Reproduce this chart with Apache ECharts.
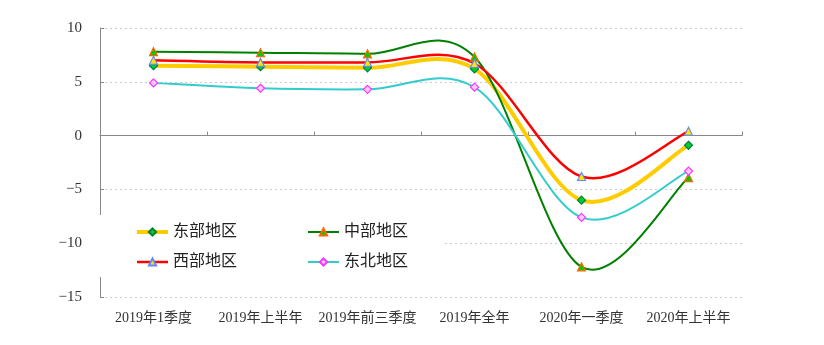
<!DOCTYPE html>
<html><head><meta charset="utf-8">
<script src="https://cdn.jsdelivr.net/npm/echarts@6/dist/echarts.min.js"></script>
<style>html,body{margin:0;padding:0;background:#fff}#c{width:824px;height:345px}</style>
</head><body><div id="c"></div>
<script>
const categories = ['2019年1季度','2019年上半年','2019年前三季度','2019年全年','2020年一季度','2020年上半年'];
const east = [6.5, 6.4, 6.3, 6.2, -6.0, -0.9];
const central = [7.8, 7.7, 7.6, 7.3, -12.2, -3.9];
const west = [7.0, 6.8, 6.8, 6.7, -3.8, 0.4];
const northeast = [4.9, 4.4, 4.3, 4.5, -7.6, -3.3];
const yTicks = {min: -15, max: 10, interval: 5};

const FONT = '"Liberation Serif", "Noto Sans CJK SC", serif';
const chart = echarts.init(document.getElementById('c'));

// markers + legend entry (line itself hidden; curve drawn by custom series below)
function markers(name, data, color, width, symbol, fill, border, size) {
  return {
    name, type: 'line', data, xAxisIndex: 0,
    symbol, symbolSize: size, showSymbol: true,
    lineStyle: {color, width, opacity: 0},
    itemStyle: {color: fill, borderColor: border, borderWidth: 1.2},
    emphasis: {disabled: true}, silent: true, z: 4
  };
}
// Excel-like smoothed curve (Catmull-Rom), points placed through the axis scales
function curve(name, data, color, width, z) {
  const n = data.length;
  return {
    name, type: 'custom', xAxisIndex: 0, silent: true, z,
    data: data.map((v, i) => [i, v]),
    encode: {x: 0, y: 1},
    renderItem(params, api) {
      const i = params.dataIndex;
      if (i >= n - 1) return null;
      const P = k => { k = Math.max(0, Math.min(n - 1, k)); return api.coord([k, data[k]]); };
      const p0 = P(i - 1), p1 = P(i), p2 = P(i + 1), p3 = P(i + 2);
      return {
        type: 'bezierCurve',
        shape: {
          x1: p1[0], y1: p1[1], x2: p2[0], y2: p2[1],
          cpx1: p1[0] + (p2[0] - p0[0]) / 6, cpy1: p1[1] + (p2[1] - p0[1]) / 6,
          cpx2: p2[0] - (p3[0] - p1[0]) / 6, cpy2: p2[1] - (p3[1] - p1[1]) / 6
        },
        style: {stroke: color, lineWidth: width, fill: null, lineCap: 'round'}
      };
    }
  };
}
const legendItem = (name, color, width) => ({name, lineStyle: {opacity: 1, color, width}});
const legendCommon = {orient: 'vertical', top: 224, itemWidth: 31, itemHeight: 9, itemGap: 14,
  itemTextGap: 5, padding: 0, z: 100, textStyle: {fontSize: 16, lineHeight: 16, color: '#222', fontFamily: FONT}};

chart.setOption({
  animation: false,
  grid: {left: 100, right: 82, top: 28, bottom: 48},
  xAxis: [
    {type: 'category', data: categories, position: 'bottom',
     axisLine: {show: false, onZero: false}, axisTick: {show: false},
     axisLabel: {color: '#333', fontSize: 14, fontFamily: FONT, margin: 14, interval: 0}},
    {type: 'category', data: categories, position: 'bottom',
     axisLine: {onZero: true, lineStyle: {color: '#888', width: 1}},
     axisTick: {show: true, inside: true, length: 4, interval: 0, lineStyle: {color: '#888'}},
     axisLabel: {show: false}, splitLine: {show: false}}
  ],
  yAxis: {
    type: 'value', min: yTicks.min, max: yTicks.max, interval: yTicks.interval,
    axisLine: {show: true, lineStyle: {color: '#888', width: 1}},
    axisTick: {show: true, inside: true, length: 4, lineStyle: {color: '#888'}},
    axisLabel: {color: '#333', fontSize: 15, fontFamily: FONT, margin: 18,
      formatter: v => String(v).replace('-', '\u2212')},
    splitLine: {show: true, lineStyle: {color: '#ccc', type: [2, 3], width: 1}}
  },
  graphic: [{type: 'rect', shape: {x: 92, y: 215, width: 350, height: 62},
    style: {fill: '#fff'}, z: 50, silent: true}],
  legend: [
    Object.assign({left: 135, data: [legendItem('东部地区', '#FFCC00', 4), legendItem('西部地区', '#FF0000', 2.5)]}, legendCommon),
    Object.assign({left: 307, data: [legendItem('中部地区', '#008000', 2), legendItem('东北地区', '#33CCCC', 2)]}, legendCommon)
  ],
  series: [
    markers('东部地区', east, '#FFCC00', 4, 'diamond', '#00CC33', '#008040', 8),
    markers('中部地区', central, '#008000', 2, 'triangle', '#00CC00', '#FF6600', 8),
    markers('西部地区', west, '#FF0000', 2.5, 'triangle', '#FFE600', '#6688FF', 8),
    markers('东北地区', northeast, '#33CCCC', 2, 'diamond', '#FFCCFF', '#FF33FF', 8),
    curve('东部地区', east, '#FFCC00', 4, 2),
    curve('中部地区', central, '#008000', 2, 2),
    curve('西部地区', west, '#FF0000', 2.5, 2),
    curve('东北地区', northeast, '#33CCCC', 2, 2)
  ]
});
</script></body></html>
